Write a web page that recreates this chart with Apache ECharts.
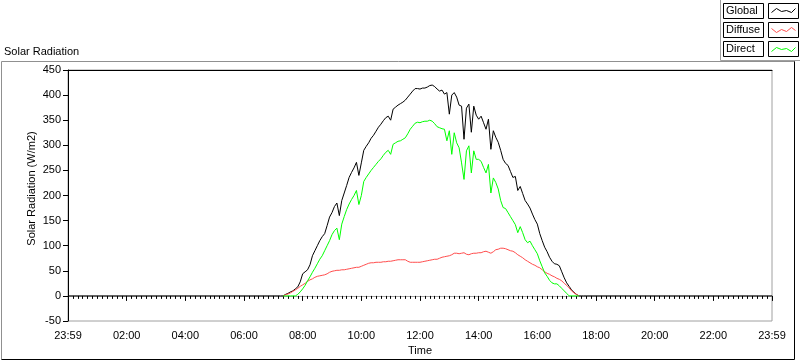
<!DOCTYPE html>
<html>
<head>
<meta charset="utf-8">
<script src="https://cdn.jsdelivr.net/npm/echarts@6/dist/echarts.min.js"></script>
<style>
html,body{margin:0;padding:0;background:#fff;}
#chart{width:800px;height:361px;}
</style>
</head>
<body>
<div id="chart"></div>
<script>
// Time of day in minutes after midnight (0 and 1440 are the 23:59 ends)
var times = [0,
435,440,445,450,455,460,465,470,475,480,
485,490,495,500,505,510,515,520,525,530,
535,540,545,550,555,560,565,570,575,580,
585,590,595,600,605,610,615,620,625,630,
635,640,645,650,655,660,665,670,675,680,
685,690,695,700,705,710,715,720,725,730,
735,740,745,750,755,760,765,770,775,780,
785,790,795,800,805,810,815,820,825,830,
835,840,845,850,855,860,865,870,875,880,
885,890,895,900,905,910,915,920,925,930,
935,940,945,950,955,960,965,970,975,980,
985,990,995,1000,1005,1010,1015,1020,1025,1030,
1035,1040,1045,1050,1055,1060,
1440];

var globalRad = [0,
0,0,3,5,8,10,14,18,28,44,
48,52,62,80,90,100,110,118,124,140,
157,166,178,185,160,190,205,220,236,246,
255,266,240,265,290,298,305,314,320,328,
336,342,349,355,358,350,372,376,380,383,
386,390,396,402,408,413,413,412,414,414,
416,419,420,417,412,408,410,402,405,362,
400,405,396,380,378,312,374,382,326,378,
360,352,358,345,332,352,292,329,316,306,
290,272,264,260,248,236,238,210,218,204,
190,183,175,163,152,143,124,110,97,88,
77,69,64,63,60,48,36,26,19,12,
7,3,0,0,0,0,
0];

var diffuseRad = [null,
null,0,2,4,6,9,12,15,19,22,
25,29,32,34,37,39,40,41,42,44,
47,49,50,51,51,52,52,53,54,55,
56,57,57,59,61,63,65,66,66,67,
67,67,68,68,69,69,70,71,72,72,
72,72,69,67,67,67,67,67,68,69,
70,71,72,73,73,75,77,78,79,80,
82,85,85,84,85,86,83,82,84,85,
85,86,86,88,89,87,85,88,92,93,
95,95,94,92,90,89,86,82,79,76,
72,69,66,63,61,58,56,52,48,45,
43,40,38,35,33,30,25,21,16,10,
6,3,0,null,null,null,
null];

var directRad = [null,
null,0,0,0,0,0,0,3,8,14,
21,30,38,47,55,64,73,80,90,100,
110,122,130,135,112,143,158,172,183,192,
200,210,182,200,228,236,243,250,256,262,
268,273,280,286,290,282,302,305,308,309,
312,315,323,332,338,344,346,345,347,348,
348,350,348,343,337,335,333,332,309,329,
282,325,305,295,265,232,289,299,245,289,
272,272,268,256,245,262,205,235,226,213,
190,176,174,166,158,150,142,126,138,126,
112,106,109,100,92,84,70,58,46,39,
31,26,24,24,20,15,10,5,0,0,
0,0,0,null,null,null,
null];

var seriesNames = ['Global', 'Diffuse', 'Direct'];
var seriesColors = ['#000000', '#ff4d4d', '#00ff00'];
var xTickLabels = ['23:59','02:00','04:00','06:00','08:00','10:00','12:00','14:00','16:00','18:00','20:00','22:00','23:59'];
var yTickMin = -50, yTickMax = 450, yTickStep = 50;

function pairs(vals){ return times.map(function(t,i){ return [t, vals[i]]; }); }
var allVals = [globalRad, diffuseRad, directRad];

var FONT = 'Liberation Sans';
var chart = echarts.init(document.getElementById('chart'), null, {renderer:'canvas'});

// Legend (LabVIEW style boxed plot legend)
var legendGraphics = [
  {type:'line', shape:{x1:720.5,y1:0,x2:720.5,y2:60.5}, style:{stroke:'#a0a0a0',lineWidth:1}},
  {type:'line', shape:{x1:720.5,y1:60.5,x2:800,y2:60.5}, style:{stroke:'#a0a0a0',lineWidth:1}}
];
var zig = [
  [[3,9],[8,5],[13,8],[18,7],[23,9],[27,5]],
  [[3,6],[8,10],[13,7],[18,9],[23,5],[27,8]],
  [[3,10],[8,6],[13,8],[18,7],[23,10],[27,6]]
];
seriesNames.forEach(function(n,i){
  var y = 3.5 + i*19;
  legendGraphics.push({type:'rect', shape:{x:723.5,y:y,width:40,height:15}, style:{fill:'#fff',stroke:'#000',lineWidth:1}});
  legendGraphics.push({type:'text', left:726, top:y+1.5, style:{text:n, font:'11px "'+FONT+'"', fill:'#000'}});
  legendGraphics.push({type:'rect', shape:{x:768.5,y:y,width:30,height:15}, style:{fill:'#fff',stroke:'#000',lineWidth:1}});
  legendGraphics.push({type:'polyline', shape:{points:zig[i].map(function(p){return [768.5+p[0], y+p[1]];})}, style:{stroke:seriesColors[i],fill:null,lineWidth:1}});
});
// outer frame
legendGraphics.push({type:'line', shape:{x1:1.5,y1:61.5,x2:1.5,y2:359.5}, style:{stroke:'#909090',lineWidth:1}});
legendGraphics.push({type:'line', shape:{x1:1.5,y1:61.5,x2:795,y2:61.5}, style:{stroke:'#909090',lineWidth:1}});
legendGraphics.push({type:'line', shape:{x1:794.5,y1:61.5,x2:794.5,y2:359.5}, style:{stroke:'#000',lineWidth:1}});
legendGraphics.push({type:'line', shape:{x1:1.5,y1:359.5,x2:794.5,y2:359.5}, style:{stroke:'#000',lineWidth:1}});

var option = {
  animation:false,
  backgroundColor:'#fff',
  textStyle:{fontFamily:FONT},
  title:{text:'Solar Radiation', left:4, top:46, padding:0, textStyle:{fontFamily:FONT,fontSize:11,fontWeight:'normal',color:'#000'}},
  graphic:legendGraphics,
  grid:{left:68, right:28, top:70, bottom:39, show:true, borderColor:'#a0a0a0', borderWidth:1, backgroundColor:'#fff'},
  xAxis:[{
    type:'value', min:0, max:1440, interval:120,
    name:'Time', nameLocation:'middle', nameGap:24, nameMoveOverlap:false,
    nameTextStyle:{fontFamily:FONT,fontSize:11,color:'#000'},
    axisLine:{show:true,lineStyle:{color:'#a0a0a0',width:1}},
    axisTick:{show:true,length:5,lineStyle:{color:'#000'}},
    minorTick:{show:true,splitNumber:12,length:3,lineStyle:{color:'#000'}},
    splitLine:{show:false},
    axisLabel:{margin:9,fontFamily:FONT,fontSize:11,color:'#000',
      formatter:function(v){ return xTickLabels[Math.round(v/120)]; }}
  },{
    type:'value', min:0, max:1440, position:'top',
    axisLine:{show:true,lineStyle:{color:'#000',width:1}},
    axisTick:{show:false}, axisLabel:{show:false}, splitLine:{show:false}
  }],
  yAxis:{
    type:'value', min:yTickMin, max:yTickMax, interval:yTickStep,
    name:'Solar Radiation (W/m2)', nameLocation:'middle', nameGap:31, nameRotate:90, nameMoveOverlap:false,
    nameTextStyle:{fontFamily:FONT,fontSize:11,color:'#000', padding:[0,0,0,14]},
    axisLine:{show:true,lineStyle:{color:'#000',width:1}},
    axisTick:{show:true,length:5,lineStyle:{color:'#000'}},
    splitLine:{show:false},
    axisLabel:{margin:7,fontFamily:FONT,fontSize:11,color:'#000'}
  },
  series: seriesNames.map(function(n,i){
    return {name:n, type:'line', xAxisIndex:0, data:pairs(allVals[i]), showSymbol:false, symbol:'none',
      connectNulls:false,
      lineStyle:{color:seriesColors[i],width:1}, itemStyle:{color:seriesColors[i]}};
  })
};
chart.setOption(option);
</script>
</body>
</html>
